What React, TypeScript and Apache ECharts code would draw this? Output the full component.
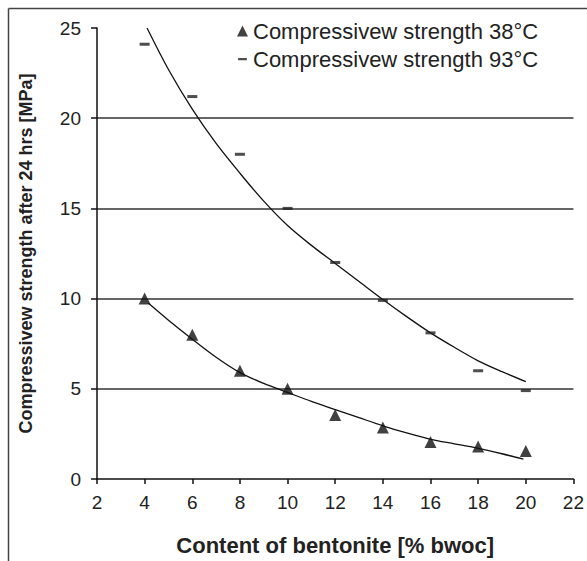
import React, { useEffect, useRef } from "react";
import * as echarts from "echarts";

const xTicks = [2, 4, 6, 8, 10, 12, 14, 16, 18, 20, 22];
const bentonite = [4, 6, 8, 10, 12, 14, 16, 18, 20];
const strength38 = [10, 8, 6, 5, 3.55, 2.85, 2.05, 1.8, 1.55];
const strength93 = [24.1, 21.2, 18.0, 15.0, 12.0, 9.9, 8.1, 6.0, 4.9];

const trendX93 = [4.1, 5, 6, 7, 8, 9, 10, 11, 12, 13, 14, 15, 16, 17, 18, 19, 20];
const trendY93 = [25, 22.7, 20.5, 18.6, 16.95, 15.4, 14.05, 12.95, 11.95, 10.95, 9.95, 9.0, 8.1, 7.3, 6.55, 5.95, 5.4];
const trendX38 = [4.15, 5, 6, 7, 8, 9, 10, 11, 12, 13, 14, 15, 16, 17, 18, 19, 19.9];
const trendY38 = [9.75, 8.8, 7.75, 6.75, 5.9, 5.3, 4.8, 4.3, 3.85, 3.4, 2.95, 2.55, 2.2, 1.95, 1.7, 1.4, 1.1];

const name38 = "Compressivew strength 38°C";
const name93 = "Compressivew strength 93°C";

export default function App() {
  const ref = useRef<HTMLDivElement>(null);
  useEffect(() => {
    if (!ref.current) return;
    const chart = echarts.init(ref.current, null, { renderer: "svg" });
    const font = "Liberation Sans, Arial, sans-serif";
    chart.setOption({
      animation: false,
      textStyle: { fontFamily: font },
      grid: { left: 97, right: 5, top: 28, bottom: 81 },
      legend: {
        orient: "vertical",
        left: 232,
        top: 15,
        itemGap: 6,
        itemWidth: 11,
        itemHeight: 11,
        textStyle: { fontSize: 22, color: "#222", fontFamily: font },
        data: [
          { name: name38, icon: "triangle", itemStyle: { color: "#111" } },
          {
            name: name93,
            icon: "path://M0,0L0,0ZM1,4.2L9,4.2L9,6.2L1,6.2ZM10,10L10,10Z",
            itemStyle: { color: "#222" },
          },
        ],
        selectedMode: false,
      },
      xAxis: {
        type: "value",
        min: 2,
        max: 22,
        interval: 2,
        name: "Content of bentonite [% bwoc]",
        nameLocation: "middle",
        nameGap: 55,
        nameTextStyle: { fontSize: 22, fontWeight: "bold", color: "#222", fontFamily: font },
        axisLine: { lineStyle: { color: "#111", width: 1.5 } },
        axisTick: { show: true, inside: false, length: 5, lineStyle: { color: "#111", width: 1.5 } },
        axisLabel: { fontSize: 19, color: "#222", margin: 14, showMaxLabel: true, fontFamily: font },
        splitLine: { show: false },
      },
      yAxis: {
        type: "value",
        min: 0,
        max: 25,
        interval: 5,
        name: "Compressivew strength after 24 hrs [MPa]",
        nameLocation: "middle",
        nameGap: 62,
        nameTextStyle: { fontSize: 18, fontWeight: "bold", color: "#222", fontFamily: font },
        axisLine: { show: true, lineStyle: { color: "#111", width: 1.5 } },
        axisTick: { show: true, length: 6, lineStyle: { color: "#111", width: 1.5 } },
        axisLabel: { fontSize: 19, color: "#222", margin: 16, fontFamily: font },
        splitLine: {
          show: true,
          showMinLine: false,
          showMaxLine: false,
          lineStyle: { color: "#333", width: 1.5 },
        },
      },
      graphic: [
        { type: "line", shape: { x1: 8.5, y1: 8.5, x2: 8.5, y2: 561 }, style: { stroke: "#444", lineWidth: 1.5 } },
        { type: "line", shape: { x1: 8.5, y1: 8.5, x2: 587, y2: 8.5 }, style: { stroke: "#444", lineWidth: 1.5 } },
      ],
      series: [
        {
          name: "trend93",
          type: "line",
          smooth: 0.3,
          symbol: "none",
          lineStyle: { color: "#111", width: 1.3 },
          data: trendX93.map((x, i) => [x, trendY93[i]]),
          z: 2,
        },
        {
          name: "trend38",
          type: "line",
          smooth: 0.3,
          symbol: "none",
          lineStyle: { color: "#111", width: 1.3 },
          data: trendX38.map((x, i) => [x, trendY38[i]]),
          z: 2,
        },
        {
          name: name38,
          type: "scatter",
          symbol: "triangle",
          symbolSize: 12,
          itemStyle: { color: "#111" },
          data: bentonite.map((x, i) => [x, strength38[i]]),
          z: 3,
        },
        {
          name: name93,
          type: "scatter",
          symbol: "rect",
          symbolSize: [10, 3],
          itemStyle: { color: "#222" },
          data: bentonite.map((x, i) => [x, strength93[i]]),
          z: 3,
        },
      ],
    });
    return () => chart.dispose();
  }, []);
  return (
    <div
      ref={ref}
      style={{ position: "fixed", left: 0, top: 0, width: 587, height: 561, background: "#fff" }}
    />
  );
}
